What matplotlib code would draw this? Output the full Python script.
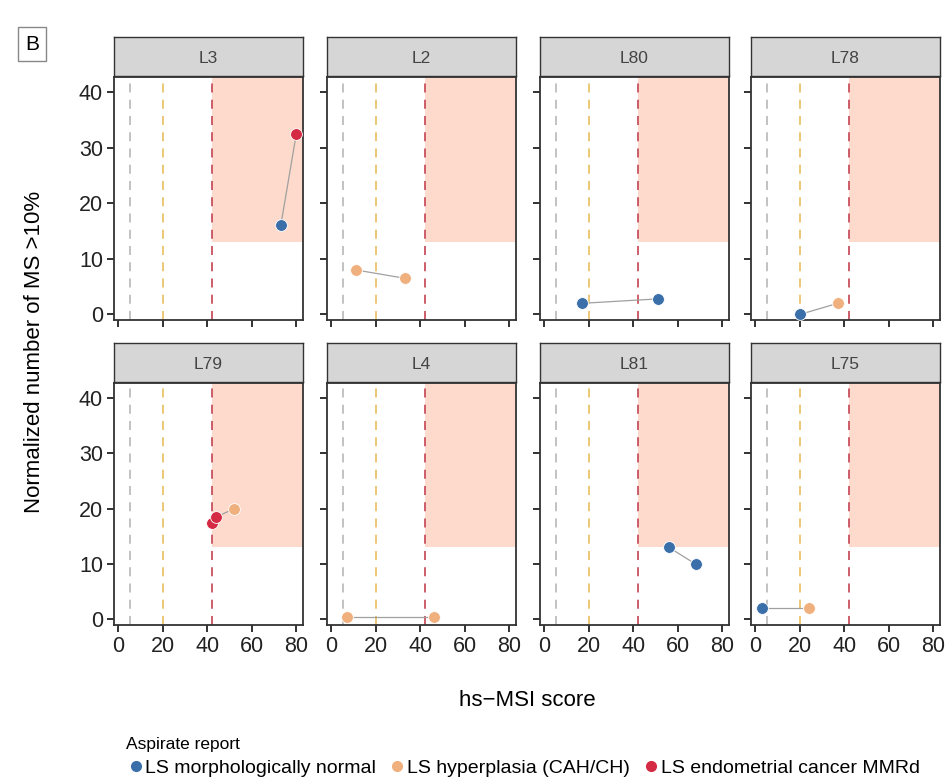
import numpy as np
import matplotlib.pyplot as plt
from matplotlib.lines import Line2D

plt.rcParams['font.family'] = ['Liberation Sans', 'DejaVu Sans']

patients = ["L3", "L2", "L80", "L78", "L79", "L4", "L81", "L75"]
# points per patient: hs-MSI score, normalized number of MS >10%, report group
x_vals = {
    "L3": [73, 80],
    "L2": [11, 33],
    "L80": [17, 51],
    "L78": [20, 37],
    "L79": [42, 44, 52],
    "L4": [7, 46],
    "L81": [56, 68],
    "L75": [3, 24],
}
y_vals = {
    "L3": [16, 32.5],
    "L2": [8, 6.5],
    "L80": [2, 2.8],
    "L78": [0, 2],
    "L79": [17.5, 18.5, 20],
    "L4": [0.5, 0.5],
    "L81": [13, 10],
    "L75": [2, 2],
}
groups = {
    "L3": ["normal", "cancer"],
    "L2": ["hyper", "hyper"],
    "L80": ["normal", "normal"],
    "L78": ["normal", "hyper"],
    "L79": ["cancer", "cancer", "hyper"],
    "L4": ["hyper", "hyper"],
    "L81": ["normal", "normal"],
    "L75": ["normal", "hyper"],
}
group_colors = {"normal": "#3B6FAA", "hyper": "#F0B07E", "cancer": "#D42A44"}
group_labels = {"normal": "LS morphologically normal",
                "hyper": "LS hyperplasia (CAH/CH)",
                "cancer": "LS endometrial cancer MMRd"}
cutoffs = [5, 20, 42]
cutoff_colors = ["#BDBDBD", "#E9C46A", "#C8505E"]
shade_x = 42
shade_y = 13

fig = plt.figure(figsize=(9.49, 7.84), dpi=100)
W, H = 949.0, 784.0
lefts = [114, 327, 540, 751]
pw = 189
rows = [(77, 320, 37), (383, 625, 343)]

for i, p in enumerate(patients):
    r, c = divmod(i, 4)
    top, bot, stop = rows[r]
    ax = fig.add_axes([lefts[c] / W, 1 - bot / H, pw / W, (bot - top) / H])
    ax.set_xlim(-2, 83)
    ax.set_ylim(-1, 42.7)
    ax.add_patch(plt.Rectangle((shade_x, shade_y), 100, 100, color="#FDDACB", lw=0, zorder=0))
    for cx, cc in zip(cutoffs, cutoff_colors):
        ax.axvline(cx, color=cc, ls=(0, (5, 4)), lw=1.3, zorder=1)
    ax.plot(x_vals[p], y_vals[p], color="#A0A0A0", lw=0.9, zorder=2)
    for xx, yy, g in zip(x_vals[p], y_vals[p], groups[p]):
        ax.plot(xx, yy, "o", color=group_colors[g], ms=8.5, mec="white", mew=0.6, zorder=3)
    ax.set_xticks([0, 20, 40, 60, 80])
    ax.set_yticks([0, 10, 20, 30, 40])
    ax.tick_params(direction="out", length=5, width=1.3, labelsize=15.5, colors="#222222", pad=3)
    if r == 0:
        ax.set_xticklabels([])
    if c != 0:
        ax.set_yticklabels([])
    for s in ax.spines.values():
        s.set_color("#333333")
        s.set_linewidth(1.3)
    # strip
    sax = fig.add_axes([lefts[c] / W, 1 - (top - 1) / H, pw / W, (top - 1 - stop) / H])
    sax.set_facecolor("#D6D6D6")
    sax.set_xticks([])
    sax.set_yticks([])
    for s in sax.spines.values():
        s.set_color("#333333")
        s.set_linewidth(1.0)
    sax.text(0.5, 0.45, p, ha="center", va="center", fontsize=12.5, color="#444444", transform=sax.transAxes)

fig.text(527 / W, 1 - 700 / H, "hs\u2212MSI score", ha="center", va="center", fontsize=16)
fig.text(35 / W, 1 - 352 / H, "Normalized number of MS >10%", ha="center", va="center",
         rotation=90, fontsize=16)
fig.text(32 / W, 1 - 44 / H, "B", ha="center", va="center", fontsize=15,
         bbox=dict(boxstyle="square,pad=0.35", fc="white", ec="#888888", lw=1))

handles = [Line2D([], [], marker="o", ls="", color=group_colors[g], ms=7, label=group_labels[g])
           for g in ["normal", "hyper", "cancer"]]
fig.text(126 / W, 1 - 745 / H, "Aspirate report", ha="left", va="center", fontsize=12.5)
fig.legend(handles=handles, loc="center left", bbox_to_anchor=(118 / W, 1 - 768 / H), ncol=3,
           frameon=False, fontsize=14, handletextpad=0.0, columnspacing=0.6, borderaxespad=0,
           handlelength=1.0)

plt.savefig("out.png", dpi=100)
